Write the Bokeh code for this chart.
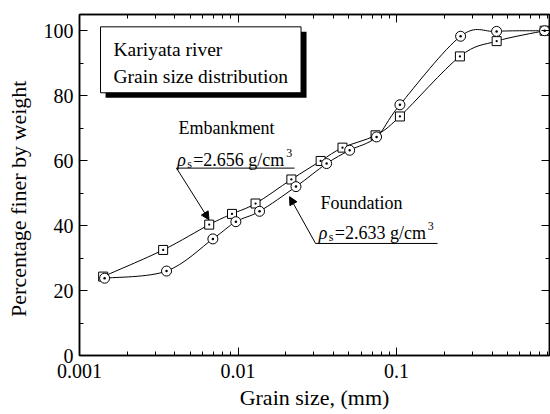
import math
from bokeh.plotting import figure
from bokeh.models import (Range1d, LogAxis, LinearAxis, FixedTicker, CustomJSTickFormatter,
                          Arrow, NormalHead, BoxAnnotation, ColumnDataSource)
from bokeh.core.properties import value
from bokeh.embed import file_html
from bokeh.resources import INLINE

FONT = "Liberation Serif"

# ---- data ----
emb_x = [0.00141, 0.00337, 0.00658, 0.00916, 0.0129, 0.0217, 0.0332, 0.0456, 0.0737, 0.105, 0.251, 0.428, 0.859]
emb_y = [24.3, 32.5, 40.3, 43.6, 46.8, 54.2, 59.9, 64.0, 67.8, 73.6, 92.1, 96.8, 100.0]
fnd_x = [0.00144, 0.00354, 0.00694, 0.00969, 0.01367, 0.0232, 0.0362, 0.0506, 0.0748, 0.105, 0.2535, 0.4276, 0.859]
fnd_y = [23.8, 26.0, 35.9, 41.2, 44.4, 52.0, 59.1, 63.2, 67.3, 77.2, 98.3, 99.8, 100.0]

x_major = [0.001, 0.01, 0.1]
x_tick_labels = ["0.001", "0.01", "0.1"]
x_minor = [0.002, 0.003, 0.004, 0.005, 0.006, 0.007, 0.008, 0.009,
           0.02, 0.03, 0.04, 0.05, 0.06, 0.07, 0.08, 0.09,
           0.2, 0.3, 0.4, 0.5, 0.6, 0.7, 0.8, 0.9]
y_major = [0, 20, 40, 60, 80, 100]
y_minor = [10, 30, 50, 70, 90]


def smooth_parts(xs, ys):
    """Catmull-Rom control points (in log-x space) for bezier segments."""
    u = [math.log10(v) for v in xs]
    n = len(u)
    d = dict(x0=[], y0=[], x1=[], y1=[], cx0=[], cy0=[], cx1=[], cy1=[])
    for i in range(n - 1):
        a = max(i - 1, 0)
        b = min(i + 2, n - 1)
        c1u = u[i] + (u[i + 1] - u[a]) / 6.0
        c1y = ys[i] + (ys[i + 1] - ys[a]) / 6.0
        c2u = u[i + 1] - (u[b] - u[i]) / 6.0
        c2y = ys[i + 1] - (ys[b] - ys[i]) / 6.0
        d["x0"].append(xs[i]); d["y0"].append(ys[i])
        d["x1"].append(xs[i + 1]); d["y1"].append(ys[i + 1])
        d["cx0"].append(10 ** c1u); d["cy0"].append(c1y)
        d["cx1"].append(10 ** c2u); d["cy1"].append(c2y)
    return ColumnDataSource(d)


p = figure(width=550, height=414, x_axis_type="log",
           x_range=Range1d(0.001, 0.922), y_range=Range1d(0, 105),
           output_backend="svg", toolbar_location=None,
           min_border_left=79, min_border_right=1, min_border_top=14, min_border_bottom=59)
p.xgrid.visible = False
p.ygrid.visible = False
p.outline_line_color = "black"
p.outline_line_width = 1.5
p.background_fill_color = "white"
p.border_fill_color = "white"

xfmt = CustomJSTickFormatter(args=dict(tvals=x_major, tlabels=x_tick_labels), code="""
const i = tvals.findIndex(t => Math.abs(Math.log10(t / tick)) < 1e-6);
return i >= 0 ? tlabels[i] : '';
""")
blank = CustomJSTickFormatter(code="return '';")


def style_axis(ax):
    ax.axis_line_color = "black"
    ax.axis_line_width = 1.5
    ax.major_tick_line_color = "black"
    ax.minor_tick_line_color = "black"
    ax.major_tick_in = 8
    ax.major_tick_out = 0
    ax.minor_tick_in = 4
    ax.minor_tick_out = 0
    ax.major_label_text_font = FONT
    ax.major_label_text_color = "black"
    ax.major_label_text_font_size = "20px"
    ax.axis_label_text_font = FONT
    ax.axis_label_text_font_size = "22px"
    ax.axis_label_text_font_style = "normal"
    ax.axis_label_text_color = "black"


xb = p.xaxis[0]
xb.ticker = FixedTicker(ticks=x_major, minor_ticks=x_minor)
xb.formatter = xfmt
style_axis(xb)
xb.major_label_standoff = 8
xb.axis_label = "Grain size, (mm)"
xb.axis_label_standoff = 4

yl = p.yaxis[0]
yl.ticker = FixedTicker(ticks=y_major, minor_ticks=y_minor)
style_axis(yl)
yl.major_label_standoff = 6
yl.axis_label = "Percentage finer by weight" + "\u00a0" * 5
yl.axis_label_standoff = 10

xt = LogAxis(ticker=FixedTicker(ticks=x_major, minor_ticks=x_minor), formatter=blank)
style_axis(xt)
xt.major_label_standoff = 0
p.add_layout(xt, "above")

yr = LinearAxis(ticker=FixedTicker(ticks=y_major, minor_ticks=y_minor), formatter=blank)
style_axis(yr)
yr.major_label_standoff = 0
p.add_layout(yr, "right")

# ---- info box with shadow (under the texts) ----
p.add_layout(BoxAnnotation(left=0.00146, right=0.02705, bottom=79.4, top=99.7,
                           fill_color="black", fill_alpha=1, line_alpha=0, level="underlay"))
p.add_layout(BoxAnnotation(left=0.001357, right=0.02497, bottom=80.9, top=101.2,
                           fill_color="white", fill_alpha=1, line_color="black",
                           line_alpha=1, line_width=1, level="underlay"))

# ---- curves ----
p.bezier(x0="x0", y0="y0", x1="x1", y1="y1", cx0="cx0", cy0="cy0", cx1="cx1", cy1="cy1",
         source=smooth_parts(emb_x, emb_y), line_color="black", line_width=1)
p.bezier(x0="x0", y0="y0", x1="x1", y1="y1", cx0="cx0", cy0="cy0", cx1="cx1", cy1="cy1",
         source=smooth_parts(fnd_x, fnd_y), line_color="black", line_width=1)

# ---- markers ----
p.scatter(emb_x, emb_y, marker="square_dot", size=9, fill_color="white",
          line_color="black", line_width=1)
p.scatter(fnd_x, fnd_y, marker="circle_dot", size=10, fill_color="white",
          line_color="black", line_width=1)

SHIFT = -4  # pixel lift applied to all in-plot texts


def lab(text, x, y, size, style="normal", xo=0, yo=0):
    p.text(x=[x], y=[y], text=[text], x_offset=xo, y_offset=yo + SHIFT,
           text_font=value(FONT), text_font_size=value(size), text_font_style=style,
           text_color="black", text_baseline="alphabetic", text_align="left")


lab("Kariyata river", 0.001639, 92.9, "19.5px")
lab("Grain size distribution", 0.001639, 84.6, "19.5px")

lab("Embankment", 0.004213, 68.9, "18px")
lab("ρ", 0.004134, 59.1, "18px", "italic")
lab("s", 0.004134, 59.1, "12px", xo=10, yo=4)
lab("=2.656 g/cm", 0.004134, 59.1, "18px", xo=16)
lab("3", 0.004134, 59.1, "12px", xo=109, yo=-7)

lab("Foundation", 0.03315, 45.8, "18px")
lab("ρ", 0.03234, 36.4, "18px", "italic")
lab("s", 0.03234, 36.4, "12px", xo=10, yo=4)
lab("=2.633 g/cm", 0.03234, 36.4, "18px", xo=16)
lab("3", 0.03234, 36.4, "12px", xo=109, yo=-7)

# leader lines
p.add_layout(Arrow(end=None, x_start=0.004093, y_start=57.7, x_end=0.02273, y_end=57.7,
                   line_color="black", line_width=1))
p.add_layout(Arrow(end=NormalHead(size=8, fill_color="black", line_color="black"),
                   x_start=0.004093, y_start=57.7, x_end=0.006561, y_end=41.8,
                   line_color="black", line_width=1))
p.add_layout(Arrow(end=None, x_start=0.03083, y_start=34.5, x_end=0.1813, y_end=34.5,
                   line_color="black", line_width=1))
p.add_layout(Arrow(end=NormalHead(size=8, fill_color="black", line_color="black"),
                   x_start=0.03083, y_start=34.5, x_end=0.02113, y_end=48.9,
                   line_color="black", line_width=1))

open("out.html", "w").write(file_html(p, INLINE))
